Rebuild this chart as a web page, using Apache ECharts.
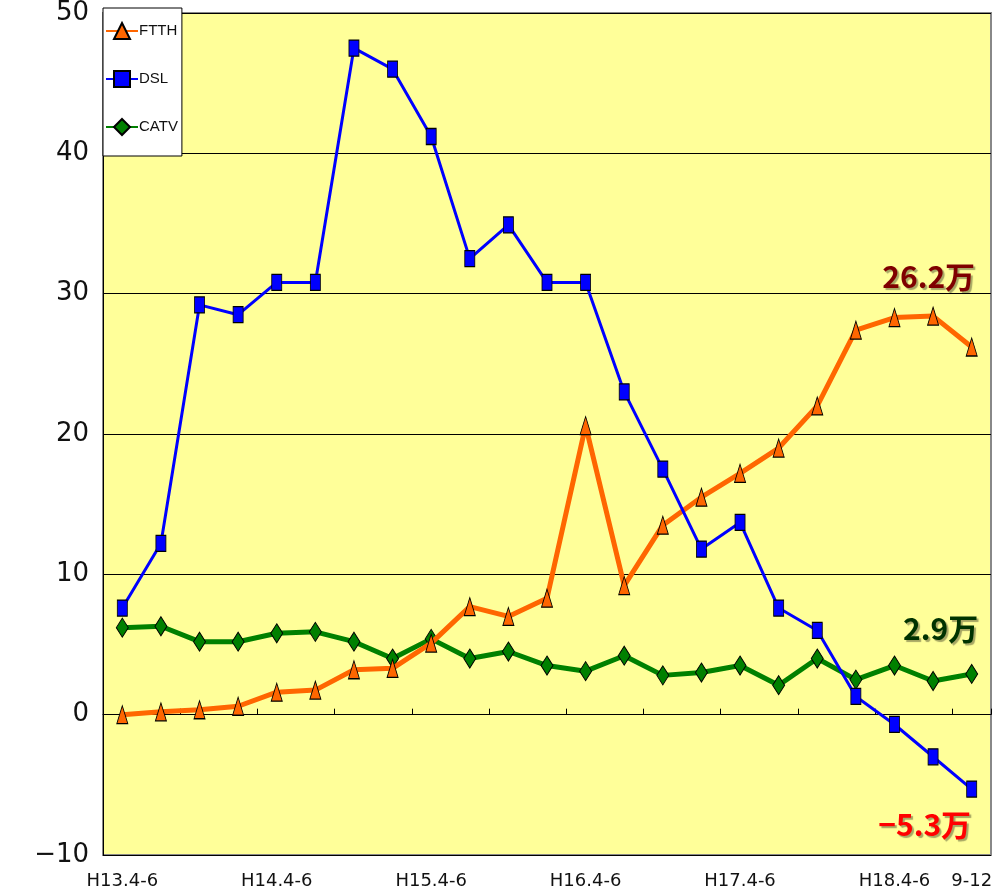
<!DOCTYPE html>
<html>
<head>
<meta charset="utf-8">
<script src="https://cdn.jsdelivr.net/npm/echarts@6/dist/echarts.min.js"></script>
<style>
  html, body { margin: 0; padding: 0; background: #fff; }
  #main { width: 999px; height: 895px; }
</style>
</head>
<body>
<div id="main"></div>
<script>
// 四半期 (H13.4-6 ... H18.9-12)
const categories = [
  'H13.4-6', 'H13.7-9', 'H13.10-12', 'H14.1-3',
  'H14.4-6', 'H14.7-9', 'H14.10-12', 'H15.1-3',
  'H15.4-6', 'H15.7-9', 'H15.10-12', 'H16.1-3',
  'H16.4-6', 'H16.7-9', 'H16.10-12', 'H17.1-3',
  'H17.4-6', 'H17.7-9', 'H17.10-12', 'H18.1-3',
  'H18.4-6', 'H18.7-9', '9-12'
]
// 表示する目盛りラベル
const tickLabels = ['H13.4-6', 'H14.4-6', 'H15.4-6', 'H16.4-6', 'H17.4-6', 'H18.4-6', '9-12']

const ftth = [0.0, 0.2, 0.35, 0.6, 1.6, 1.75, 3.2, 3.3, 5.1, 7.7, 7.0, 8.3,
  20.6, 9.2, 13.5, 15.5, 17.2, 19.0, 22.0, 27.4, 28.3, 28.4, 26.2]
const dsl = [7.6, 12.2, 29.2, 28.5, 30.8, 30.8, 47.5, 46.0, 41.2, 32.5, 34.9, 30.8,
  30.8, 23.0, 17.5, 11.8, 13.7, 7.6, 6.0, 1.3, -0.7, -3.0, -5.3]
const catv = [6.2, 6.3, 5.2, 5.2, 5.8, 5.9, 5.2, 4.0, 5.4, 4.0, 4.5, 3.5,
  3.1, 4.2, 2.8, 3.0, 3.5, 2.1, 4.0, 2.5, 3.5, 2.4, 2.9]

const chart = echarts.init(document.getElementById('main'))

// 最終点の注記
function endNote(data, text, color, offset) {
  const last = data.length - 1
  return {
    symbol: 'circle',
    symbolSize: 1,
    silent: true,
    itemStyle: { color: 'rgba(0,0,0,0)' },
    data: [{
      coord: [last, data[last]],
      label: {
        show: true,
        position: 'inside',
        formatter: text,
        offset: offset,
        color: color,
        fontSize: 30,
        fontWeight: 'bold',
        fontFamily: 'Noto Sans CJK JP',
        textShadowColor: 'rgba(0,0,0,0.35)',
        textShadowOffsetX: 2,
        textShadowOffsetY: 2,
        textShadowBlur: 1
      }
    }]
  }
}

const option = {
  backgroundColor: '#fff',
  animation: false,
  grid: {
    left: 103,
    right: 8,
    top: 8,
    bottom: 40,
    show: true,
    backgroundColor: '#FFFF99',
    borderColor: '#888',
    borderWidth: 2
  },
  legend: {
    left: 103,
    top: 8,
    orient: 'vertical',
    padding: [14, 4, 20, 2],
    itemGap: 30,
    itemWidth: 32,
    itemHeight: 20,
    backgroundColor: '#fff',
    borderColor: '#000',
    borderWidth: 1,
    textStyle: {
      fontFamily: 'Liberation Sans Narrow, Liberation Sans',
      fontSize: 15,
      color: '#111',
      padding: [0, 0, 0, -4]
    },
    data: ['FTTH', 'DSL', 'CATV']
  },
  xAxis: [
    {
      type: 'category',
      data: categories,
      position: 'bottom',
      axisLine: { onZero: false, show: false },
      axisTick: { show: false },
      axisLabel: {
        interval: 0,
        margin: 17,
        fontSize: 18,
        fontFamily: 'DejaVu Sans',
        color: '#111',
        formatter: v => tickLabels.includes(v) ? v : ''
      }
    },
    {
      type: 'category',
      data: categories,
      position: 'bottom',
      axisLine: { onZero: true, lineStyle: { color: '#000', width: 1 } },
      axisTick: { show: true, inside: true, length: 6, lineStyle: { color: '#000' } },
      axisLabel: { show: false }
    }
  ],
  yAxis: {
    type: 'value',
    min: -10,
    max: 50,
    interval: 10,
    axisLine: { show: true, onZero: false, lineStyle: { color: '#000', width: 1 } },
    axisTick: { show: false },
    splitLine: { lineStyle: { color: '#000', width: 1 } },
    axisLabel: {
      margin: 14,
      fontSize: 26,
      fontFamily: 'DejaVu Sans',
      color: '#111',
      formatter: v => v < 0 ? '−' + Math.abs(v) : String(v)
    }
  },
  series: [
    {
      name: 'FTTH',
      type: 'line',
      data: ftth,
      z: 3,
      lineStyle: { color: '#FF6600', width: 5 },
      itemStyle: { color: '#FF6600', borderColor: '#000', borderWidth: 1 },
      symbol: 'triangle',
      symbolSize: [11, 18],
      markPoint: endNote(ftth, '26.2万', '#7F0000', [-43, -70])
    },
    {
      name: 'DSL',
      type: 'line',
      data: dsl,
      z: 4,
      lineStyle: { color: '#0000FF', width: 3 },
      itemStyle: { color: '#0000FF', borderColor: '#000', borderWidth: 1 },
      symbol: 'rect',
      symbolSize: [10, 16],
      markPoint: endNote(dsl, '−5.3万', '#FF0000', [-47, 36])
    },
    {
      name: 'CATV',
      type: 'line',
      data: catv,
      z: 2,
      lineStyle: { color: '#008000', width: 5 },
      itemStyle: { color: '#008000', borderColor: '#000', borderWidth: 1 },
      symbol: 'diamond',
      symbolSize: [12, 19],
      markPoint: endNote(catv, '2.9万', '#003300', [-31, -45])
    }
  ]
}

chart.setOption(option)
</script>
</body>
</html>
